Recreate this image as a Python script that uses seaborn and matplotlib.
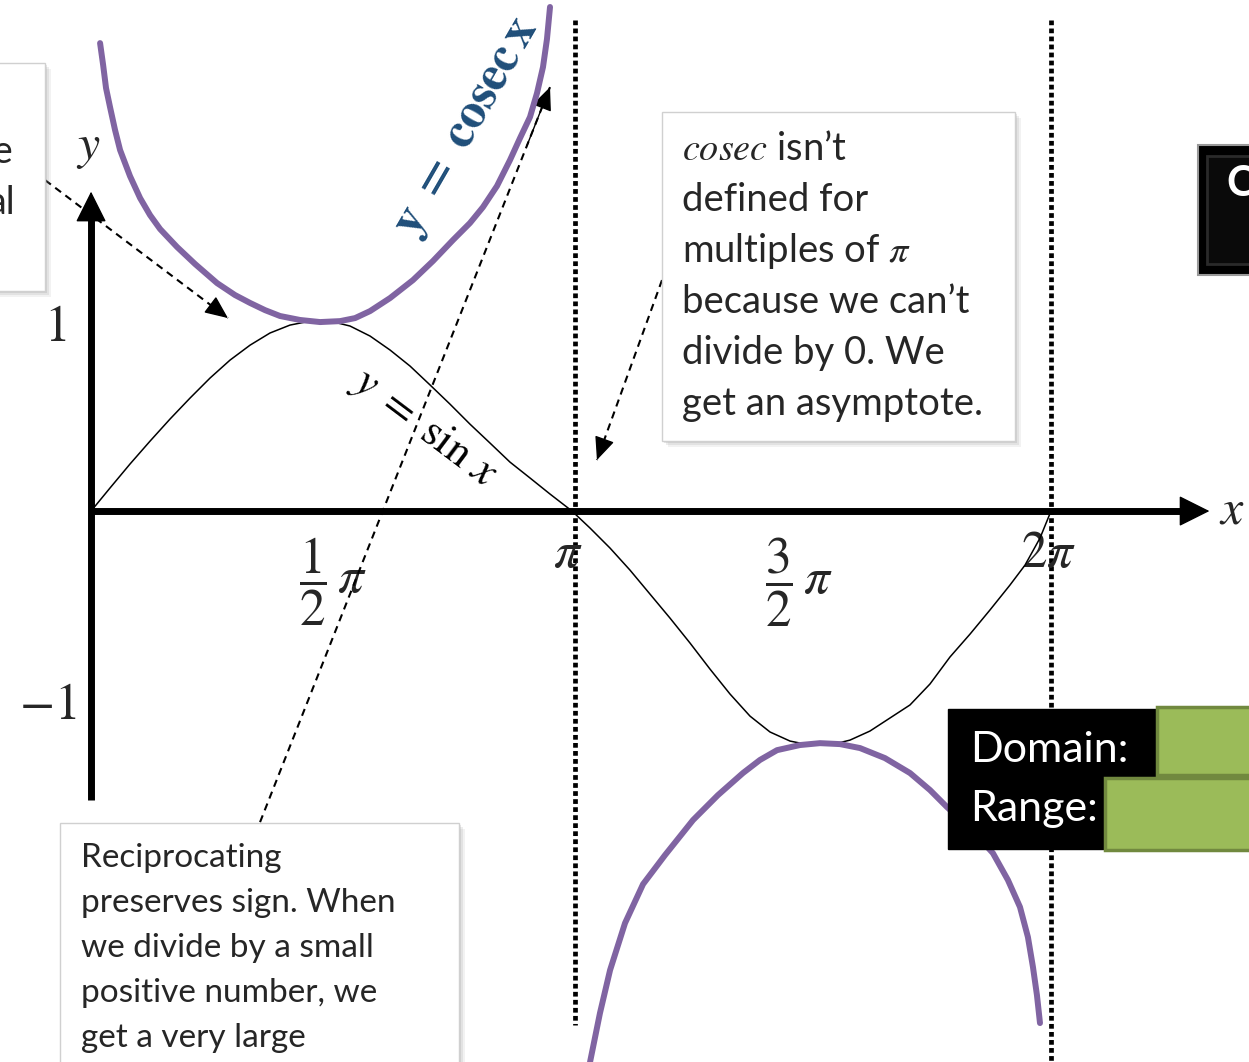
import matplotlib
matplotlib.use("Agg")
import matplotlib.pyplot as plt
import matplotlib.patches as patches
import numpy as np
import seaborn as sns

# Values (x in radians, y in function units)
sin_x = [0.0, 0.124, 0.255, 0.386, 0.517, 0.648, 0.779, 0.910, 1.041, 1.171,
         1.302, 1.433, 1.564, 1.695, 1.826, 1.957, 2.088, 2.219, 2.349, 2.480,
         2.611, 2.742, 2.873, 3.004, 3.148, 3.266, 3.397, 3.527, 3.658, 3.789,
         3.920, 4.051, 4.182, 4.313, 4.444, 4.575, 4.705, 4.836, 4.967, 5.098,
         5.229, 5.360, 5.491, 5.622, 5.753, 5.883, 6.014, 6.113, 6.211, 6.283]
sin_y = [0.0, 0.122, 0.249, 0.370, 0.487, 0.598, 0.704, 0.799, 0.878, 0.942,
         0.984, 1.005, 1.005, 0.979, 0.926, 0.852, 0.767, 0.667, 0.566, 0.460,
         0.360, 0.259, 0.175, 0.090, 0.0, -0.090, -0.196, -0.312, -0.439, -0.566,
         -0.698, -0.836, -0.968, -1.085, -1.169, -1.217, -1.238, -1.238, -1.212, -1.164,
         -1.095, -1.026, -0.915, -0.772, -0.651, -0.524, -0.392, -0.286, -0.143, 0.0]

cosec_left_x = [0.059, 0.079, 0.098, 0.124, 0.157, 0.190, 0.255, 0.321, 0.386, 0.452,
                0.563, 0.681, 0.825, 0.942, 1.041, 1.139, 1.237, 1.368, 1.499, 1.630,
                1.728, 1.826, 1.957, 2.107, 2.238, 2.369, 2.480, 2.565, 2.657, 2.742,
                2.808, 2.873, 2.919, 2.958, 2.984, 3.004]
cosec_left_y = [2.476, 2.360, 2.238, 2.138, 2.016, 1.910, 1.772, 1.656, 1.566, 1.492,
                1.397, 1.307, 1.206, 1.143, 1.101, 1.063, 1.032, 1.011, 1.000, 1.005,
                1.021, 1.058, 1.127, 1.222, 1.323, 1.434, 1.524, 1.608, 1.720, 1.857,
                1.974, 2.085, 2.212, 2.349, 2.497, 2.667]

cosec_right_x = [3.266, 3.331, 3.397, 3.495, 3.613, 3.757, 3.940, 4.103, 4.267, 4.378,
                 4.490, 4.640, 4.771, 4.902, 5.033, 5.196, 5.360, 5.491, 5.602, 5.753,
                 5.903, 6.001, 6.080, 6.132, 6.165, 6.191, 6.211]
cosec_right_y = [-2.915, -2.656, -2.429, -2.180, -1.974, -1.820, -1.635, -1.503, -1.386, -1.317,
                 -1.265, -1.238, -1.228, -1.233, -1.254, -1.307, -1.386, -1.476, -1.566, -1.677,
                 -1.810, -1.952, -2.095, -2.254, -2.413, -2.561, -2.709]

asymptote_x = [3.17, 6.28]
asymptote_top = [2.598, 2.598]
asymptote_bottom = [-2.72, -2.915]

xtick_pos = [np.pi / 2, np.pi, 3 * np.pi / 2, 2 * np.pi]
xtick_labels = [r"$\dfrac{1}{2}\,\pi$", r"$\pi$", r"$\dfrac{3}{2}\,\pi$", r"$2\pi$"]
ytick_labels = [r"$1$", r"$-1$"]

# dashed pointer arrows: (start, end) in data units
pointers = [((-0.301, 1.751), (0.896, 1.021)),
            ((1.106, -1.646), (3.004, 2.243)),
            ((3.737, 1.222), (3.311, 0.270))]

box_lines = ["$cosec$ isn’t", "defined for", r"multiples of $\pi$",
             "because we can’t", "divide by 0. We", "get an asymptote."]
bottom_lines = ["Reciprocating", "preserves sign. When", "we divide by a small",
                "positive number, we", "get a very large"]

sns.set_theme(style="white")
plt.rcParams["font.family"] = ["Lato", "DejaVu Sans"]
plt.rcParams["mathtext.fontset"] = "stix"

W, H = 1249, 1062
fig = plt.figure(figsize=(W / 100, H / 100), dpi=100)
fig.patch.set_facecolor("white")
ax = fig.add_axes([0, 0, 1, 1])
ax.set_xlim(-0.596, 7.579)
ax.set_ylim(-2.915, 2.704)
ax.axis("off")


def fp(x, y):
    return (x / W, 1 - y / H)


def box(x0, y0, x1, y1, face="white", edge="#d0d0d0", z=5, shadow=True, lw=1.0):
    if shadow:
        for k, a in [(6, 0.10), (4, 0.15), (2, 0.2)]:
            ax.add_patch(patches.Rectangle(fp(x0 + k, y1 + k), (x1 - x0) / W, (y1 - y0) / H,
                                           transform=fig.transFigure, facecolor="#888888",
                                           edgecolor="none", alpha=a, zorder=z - 0.1, clip_on=False))
    ax.add_patch(patches.Rectangle(fp(x0, y1), (x1 - x0) / W, (y1 - y0) / H,
                                   transform=fig.transFigure, facecolor=face, edgecolor=edge,
                                   lw=lw, zorder=z, clip_on=False))


def head(p0, p1, lw=1.0, hl=0.9, hw=0.45, ms=20, z=4):
    ax.annotate("", xy=p1, xytext=p0,
                arrowprops=dict(arrowstyle=f"-|>,head_length={hl},head_width={hw}",
                                lw=lw, color="black", shrinkA=0, shrinkB=0, mutation_scale=ms),
                zorder=z)


# axes with arrow heads
ax.plot([0, 0], [-1.53, 1.60], color="black", lw=5, solid_capstyle="butt", zorder=3)
ax.plot([0, 7.22], [0, 0], color="black", lw=5, solid_capstyle="butt", zorder=3)
head((0, 1.5), (0, 1.69), ms=22, z=3)
head((7.15, 0), (7.32, 0), ms=22, z=3)
ax.text(*fp(88, 148), r"$y$", transform=fig.transFigure, fontsize=36, ha="center", va="center")
ax.text(*fp(1232, 510), r"$x$", transform=fig.transFigure, fontsize=36, ha="center", va="center")

# tick labels
tick_off = [2, -3, -12, -2]
for p, lab, off in zip(xtick_pos, xtick_labels, tick_off):
    yy = 553 if "frac" not in lab else 582
    ax.text(ax.transData.transform((p, 0))[0] / W + off / W, fp(0, yy)[1], lab,
            transform=fig.transFigure, fontsize=37, ha="center", va="center")
ax.text(*fp(66, 327), ytick_labels[0], transform=fig.transFigure, fontsize=37, ha="right", va="center")
ax.text(*fp(76, 705), ytick_labels[1], transform=fig.transFigure, fontsize=37, ha="right", va="center")

# curves
sns.lineplot(x=sin_x, y=sin_y, sort=False, estimator=None, color="black", lw=1.1, ax=ax, zorder=4)
for cx, cy in [(cosec_left_x, cosec_left_y), (cosec_right_x, cosec_right_y)]:
    sns.lineplot(x=cx, y=cy, sort=False, estimator=None, color="#8064A2", lw=4.3, ax=ax,
                 zorder=6, solid_joinstyle="round")

# asymptotes
for xa, yt, yb in zip(asymptote_x, asymptote_top, asymptote_bottom):
    ax.plot([xa, xa], [yt, yb], color="black", lw=3.4, linestyle=(0, (1, 0.7)),
            dash_capstyle="butt", zorder=2)

# curve labels
ax.text(*fp(467, 128), r"$\mathbf{y\ =\ cosec\,}\mathit{\mathbf{x}}$", transform=fig.transFigure,
        fontsize=36, color="#1F4E79", rotation=60, ha="center", va="center", zorder=7)
ax.text(*fp(424, 428), r"$y\ =\ \sin\,x$", transform=fig.transFigure,
        fontsize=32, color="black", rotation=-37, ha="center", va="center", zorder=7)

# dashed pointers
for (x0, y0), (x1, y1) in pointers:
    ax.plot([x0, x1], [y0, y1], color="black", lw=1.5, linestyle=(0, (3.5, 2.6)), zorder=4)
    head((x0 + 0.92 * (x1 - x0), y0 + 0.92 * (y1 - y0)), (x1, y1), hl=0.8, hw=0.35, ms=18)

# text boxes
box(-10, 63, 45, 291, z=8)
ax.text(*fp(12, 152), "e", transform=fig.transFigure, fontsize=27, ha="right", va="center", zorder=9)
ax.text(*fp(15, 203), "al", transform=fig.transFigure, fontsize=27, ha="right", va="center", zorder=9)

box(662, 112, 1015, 441, z=8)
for i, line in enumerate(box_lines):
    ax.text(*fp(682, 149 + 51 * i), line, transform=fig.transFigure, fontsize=27.5,
            ha="left", va="center", zorder=9)

box(60, 823, 459, 1075, z=8)
for i, line in enumerate(bottom_lines):
    ax.text(*fp(81, 858 + 45 * i), line, transform=fig.transFigure, fontsize=24,
            ha="left", va="center", zorder=9)

# dark label boxes
box(1198, 145, 1260, 275, face="black", edge="#999999", z=8, shadow=False, lw=1.5)
box(1207, 156, 1260, 264, face="#0a0a0a", edge="#2a2a2a", z=8.2, shadow=False, lw=2)
ax.text(*fp(1226, 184), "C", transform=fig.transFigure, fontsize=30, color="white",
        fontweight="bold", ha="left", va="center", zorder=9)

box(948, 709, 1260, 849, face="black", edge="black", z=8, shadow=False)
ax.text(*fp(970, 750), "Domain:", transform=fig.transFigure, fontsize=31, color="white",
        ha="left", va="center", zorder=9)
ax.text(*fp(970, 809), "Range:", transform=fig.transFigure, fontsize=31, color="white",
        ha="left", va="center", zorder=9)
box(1157, 707, 1262, 775, face="#9BBB59", edge="#71893F", z=9.5, shadow=False, lw=2.5)
box(1105, 778, 1262, 850, face="#9BBB59", edge="#71893F", z=9.5, shadow=False, lw=2.5)

fig.savefig("out.png", dpi=100)
